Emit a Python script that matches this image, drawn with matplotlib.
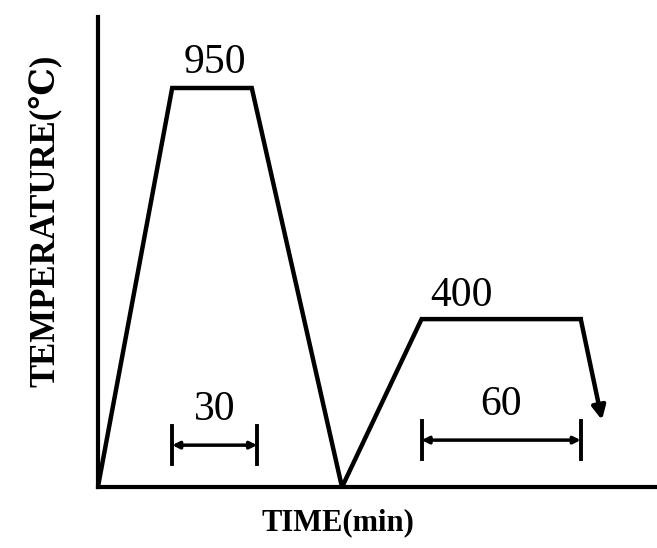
import matplotlib
matplotlib.use("Agg")
import matplotlib.pyplot as plt

# schematic heat-treatment cycle: time (min) vs temperature (C)
times = [0, 28, 58, 92, 122, 182]
temps = [0, 950, 950, 0, 400, 400]
cool_end = (190, 160)          # final cooling arrow target

hold_labels = ["950", "400"]
hold_label_pos = [(44, 1010), (137, 455)]
spans = [(28, 60, 100, "30"), (122, 182, 112, "60")]   # start, end, temp level, text

plt.rcParams['font.family'] = ['Liberation Serif', 'DejaVu Serif', 'DejaVu Sans']

fig = plt.figure(figsize=(6.57, 5.48), dpi=100)
ax = fig.add_axes([0.149, 0.111, 0.848, 0.858])
ax.set_xlim(0, 210)
ax.set_ylim(0, 1119)

ax.plot(times, temps, color='black', linewidth=3.2, solid_joinstyle='miter')
ax.annotate('', xy=cool_end, xytext=(times[-1], temps[-1]),
            arrowprops=dict(arrowstyle='-|>,head_length=0.8,head_width=0.4',
                            color='black', lw=3.2, shrinkA=0, shrinkB=0))

for txt, (x, y) in zip(hold_labels, hold_label_pos):
    ax.text(x, y, txt, ha='center', va='center', fontsize=30)

for x0, x1, y, txt in spans:
    ax.annotate('', xy=(x1, y), xytext=(x0, y),
                arrowprops=dict(arrowstyle='<|-|>,head_length=0.4,head_width=0.2',
                                color='black', lw=2.5, shrinkA=0, shrinkB=0))
    for x in (x0, x1):
        ax.plot([x, x], [y - 45, y + 45], color='black', linewidth=2.8)
    ax.text((x0 + x1) / 2, y + 85, txt, ha='center', va='center', fontsize=30)

for side in ['top', 'right']:
    ax.spines[side].set_visible(False)
for side in ['left', 'bottom']:
    ax.spines[side].set_linewidth(3)
ax.set_xticks([])
ax.set_yticks([])

ax.set_xlabel('TIME(min)', fontsize=22, fontweight='bold')
ax.xaxis.set_label_coords(0.43, -0.045)
ax.set_ylabel('TEMPERATURE(℃)', fontsize=25, fontweight='bold')
ax.yaxis.set_label_coords(-0.065, 0.567)

fig.savefig('out.png', dpi=100)
